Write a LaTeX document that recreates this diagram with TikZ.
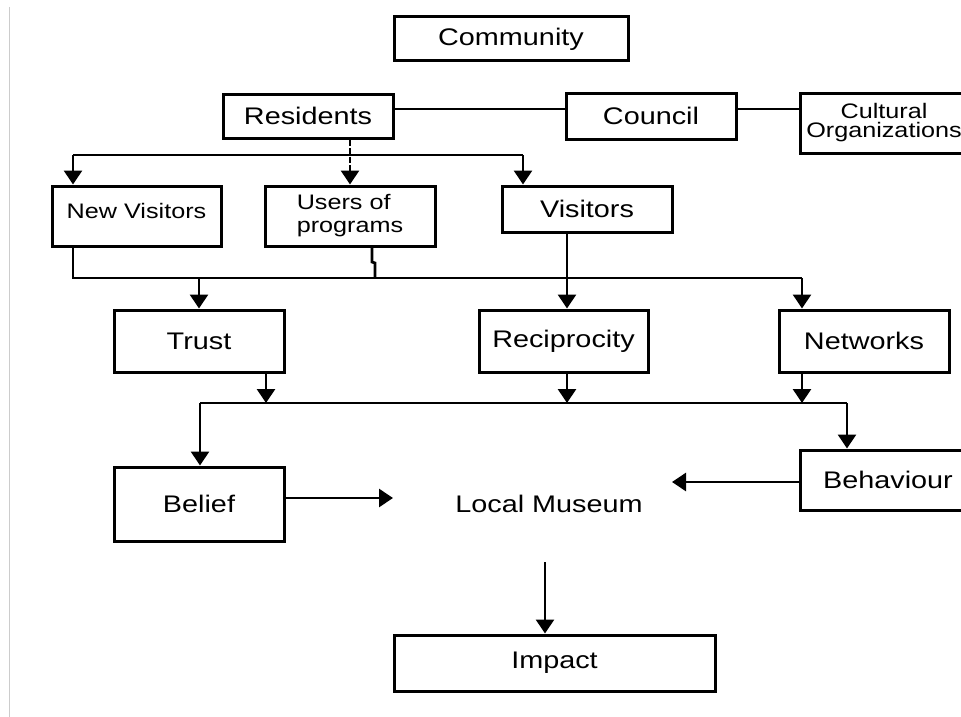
\documentclass[tikz,border=0pt]{standalone}
\usepackage{fontspec}
\setmainfont{Liberation Sans}[FakeStretch=1.2]
\usetikzlibrary{arrows.meta}

\tikzset{
  box/.style={draw, line width=3pt, rectangle, inner sep=0pt, align=center,
    font=\fontsize{24}{26}\selectfont},
  smallbox/.style={box, font=\fontsize{21}{23}\selectfont},
  wire/.style={line width=2.7pt},
  arr/.style={wire, -{Triangle[width=18pt,length=14pt]}},
}

\begin{document}
\begin{tikzpicture}[x=1pt, y=-1pt]
\useasboundingbox (0,0) rectangle (961,717);
\clip (0,0) rectangle (961,717);

% thin page rule on the left
\draw[black!20, line width=1pt] (9,7) -- (9,717);

% boxes
\node[box, minimum width=234pt, minimum height=44pt] (community) at (511,39) {Community};
\node[box, minimum width=170pt, minimum height=44pt] (residents) at (308,116) {Residents};
\node[box, minimum width=170pt, minimum height=46pt] (council) at (651,116) {Council};
\node[smallbox, minimum width=168pt, minimum height=60pt, font=\fontsize{21}{19}\selectfont] (cultural) at (884,123) {Cultural\\Organizations};

\node[smallbox, minimum width=169pt, minimum height=60pt, text height=15pt, text depth=10pt] (newvis) at (136.5,216) {New Visitors};
\node[smallbox, minimum width=170pt, minimum height=60pt, align=left] (users) at (350,216) {Users of\\programs};
\node[box, minimum width=170pt, minimum height=46pt] (visitors) at (587,209) {Visitors};

\node[box, minimum width=170pt, minimum height=62pt] (trust) at (199,341) {Trust};
\node[box, minimum width=169pt, minimum height=62pt] (recip) at (563.5,341) {Reciprocity};
\node[box, minimum width=170pt, minimum height=62pt] (networks) at (864,341) {Networks};

\node[box, minimum width=170pt, minimum height=74pt] (belief) at (199,504) {Belief};
\node[box, minimum width=176pt, minimum height=60pt] (behaviour) at (888,480) {Behaviour};
\node[font=\fontsize{24}{26}\selectfont, inner sep=0pt] (museum) at (549,504) {Local Museum};
\node[box, minimum width=321pt, minimum height=56pt] (impact) at (554.5,663) {Impact};

% junction points
\coordinate (b1) at (73,155);
\coordinate (b2) at (523,155);
\coordinate (m1) at (73,278);
\coordinate (m2) at (802,278);
\coordinate (vx) at (567,278);
\coordinate (u1) at (372,262);
\coordinate (u2) at (375,263);
\coordinate (t1) at (266,403);
\coordinate (r1) at (567,403);
\coordinate (w1) at (802,403);
\coordinate (n1) at (200,403);
\coordinate (n2) at (847,403);
\coordinate (bt) at (393,498);
\coordinate (bh) at (672,482);
\coordinate (ms) at (545,562);

% top row links
\draw[wire] ([yshift=7pt]residents.east) -- ([yshift=7pt]council.west);
\draw[wire] ([yshift=7pt]council.east) -- ([yshift=14pt]cultural.west);

% residents fan-out
\draw[wire] (b1) -- (b2);
\draw[arr] (b1) -- (b1 |- newvis.north);
\draw[arr] (b2) -- (b2 |- visitors.north);
\draw[arr, dash pattern=on 6pt off 2.5pt] (residents.south -| users.north) -- (users.north);

% second merge
\draw[wire] (newvis.south -| m1) -- (m1) -- (m2);
\draw[wire] (users.south -| u1) -- (u1) -- (u2) -- (u2 |- m1);
\draw[arr] (m2) -- (m2 |- networks.north);
\draw[arr] (trust.north |- m1) -- (trust.north);
\draw[arr] (visitors.south -| vx) -- (recip.north -| vx);

% third merge
\draw[arr] (trust.south -| t1) -- (t1);
\draw[arr] (recip.south -| r1) -- (r1);
\draw[arr] (networks.south -| w1) -- (w1);
\draw[wire] (n1) -- (n2);
\draw[arr] (n1) -- (belief.north -| n1);
\draw[arr] (n2) -- (behaviour.north -| n2);

% into and out of the museum
\draw[arr] (belief.east |- bt) -- (bt);
\draw[arr] (behaviour.west |- bh) -- (bh);
\draw[arr] (ms) -- (impact.north -| ms);
\end{tikzpicture}
\end{document}
